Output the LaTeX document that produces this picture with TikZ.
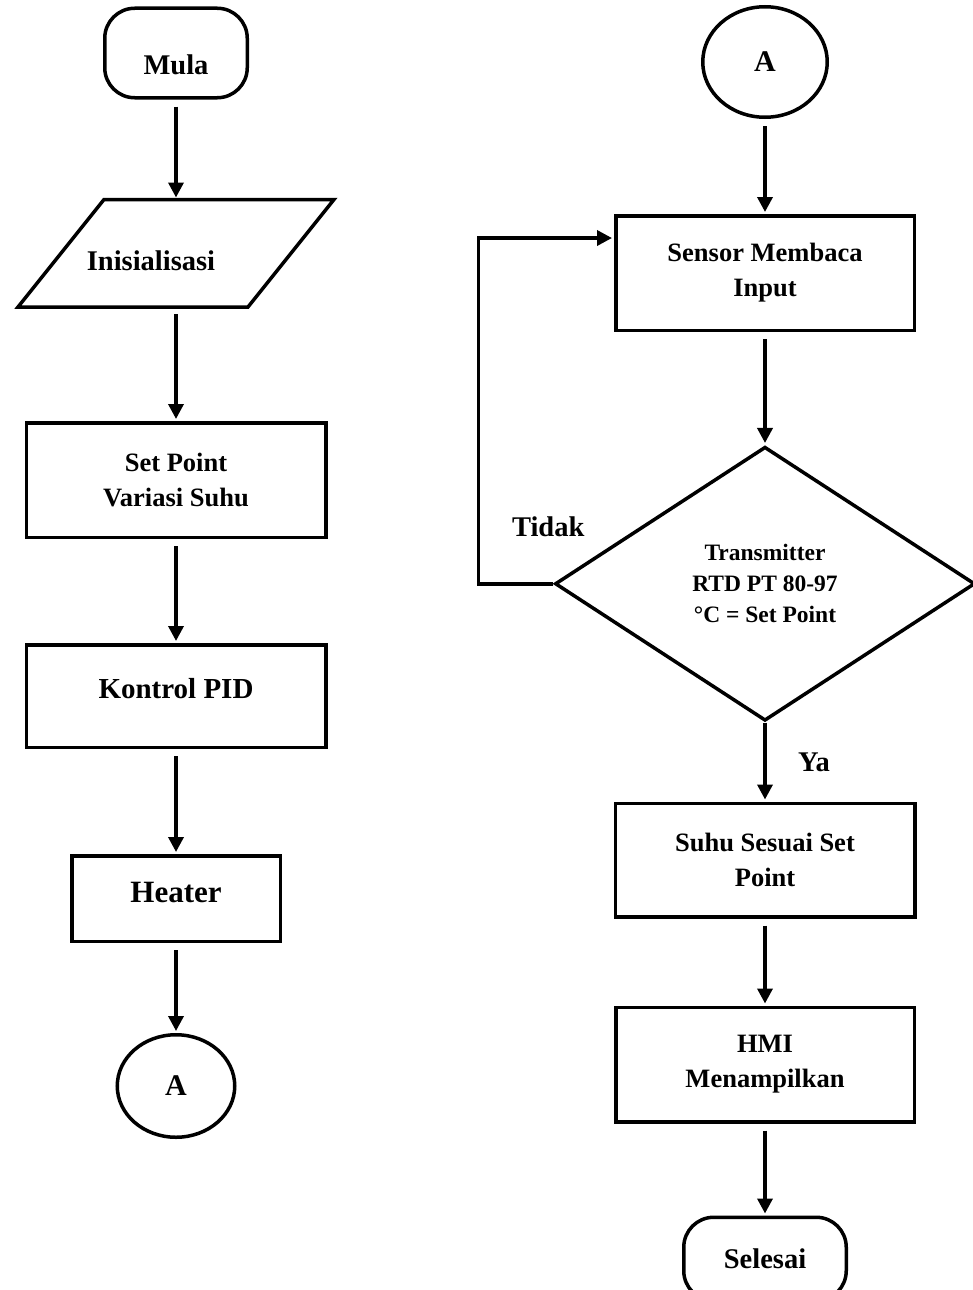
\documentclass[tikz,border=0pt]{standalone}
\usepackage{fontspec}
\setmainfont{Liberation Serif}
\usetikzlibrary{arrows.meta,positioning,shapes.geometric}

\begin{document}
\begin{tikzpicture}[
  x=1pt, y=-1pt,
  base/.style={draw=black, line width=3.5pt, align=center, inner sep=0pt,
    font=\bfseries\fontsize{26.5}{35}\selectfont},
  terminal/.style={base, rectangle, rounded corners=30pt},
  process/.style={base, rectangle, minimum width=299.5pt},
  decision/.style={base, diamond, font=\bfseries\fontsize{23.5}{31}\selectfont},
  connector/.style={base, ellipse, font=\bfseries\fontsize{30}{36}\selectfont},
  tag/.style={font=\bfseries\fontsize{28.5}{35}\selectfont},
  line/.style={-{Triangle[length=15pt,width=15pt]}, line width=3.5pt,
    shorten <=7pt, shorten >=2pt}
]
\path[use as bounding box, fill=white] (0,0) rectangle (973,1290);

% left column
\node[terminal, minimum width=142.5pt, minimum height=89.5pt, tag,
  text height=43pt, text depth=0pt] (mula) at (176,53) {Mula};
\node[base, draw=none, outer sep=0pt, minimum width=230pt, minimum height=107.5pt,
  below=100pt of mula] (init) {};
\draw[line width=3.5pt] ([xshift=43pt]init.north west) -- ([xshift=43pt]init.north east)
  -- ([xshift=-43pt]init.south east) -- ([xshift=-43pt]init.south west) -- cycle;
\node[tag] (init-text) at ([xshift=-25pt,yshift=-7pt]init.center) {Inisialisasi};
\node[process, minimum height=114.5pt, below=114pt of init] (setpoint) {Set Point\\Variasi Suhu};
\node[process, minimum height=102.5pt, below=104pt of setpoint,
  font=\bfseries\fontsize{29}{35}\selectfont, text height=20pt, text depth=16pt] (pid) {Kontrol PID};
\node[process, minimum width=208.5pt, minimum height=85.5pt, below=105pt of pid,
  font=\bfseries\fontsize{31}{35}\selectfont, text height=21pt, text depth=14pt] (heater) {Heater};
\node[connector, minimum width=117.5pt, minimum height=102.5pt, below=90pt of heater] (goto) {A};

\draw[line] (mula) -- (init);
\draw[line] (init) -- (setpoint);
\draw[line] (setpoint) -- (pid);
\draw[line] (pid) -- (heater);
\draw[line] (heater) -- (goto);

% right column
\node[connector, minimum width=124.5pt, minimum height=110.5pt] (from) at (765,62) {A};
\node[process, minimum width=298.5pt, minimum height=114.5pt, below=95pt of from] (sensor) {Sensor Membaca\\Input};
\node[decision, minimum width=420pt, minimum height=274pt, below=113pt of sensor] (check) {Transmitter\\RTD PT 80-97\\°C = Set Point};
\node[process, minimum height=113.5pt, below=79pt of check] (match) {Suhu Sesuai Set\\Point};
\node[process, minimum width=298.5pt, minimum height=114.5pt, below=87pt of match] (hmi) {HMI\\Menampilkan};
\node[terminal, minimum width=162.5pt, minimum height=83.5pt, below=92pt of hmi, tag] (selesai) {Selesai};

\draw[line] (from) -- (sensor);
\draw[line] (sensor) -- (check);
\draw[line, shorten <=0pt] (check) -- node[tag, right=28pt] (ya) {Ya} (match);
\draw[line] (match) -- (hmi);
\draw[line] (hmi) -- (selesai);

% loop back when the reading is not at set point
\coordinate (back) at ([xshift=-75pt]check.west);
\draw[line, shorten <=0pt] (check.west) -- (back) |- ([yshift=35pt]sensor.west);
\node[tag] (tidak) at ([xshift=-5pt,yshift=57pt]check.west) {Tidak};
\end{tikzpicture}
\end{document}
